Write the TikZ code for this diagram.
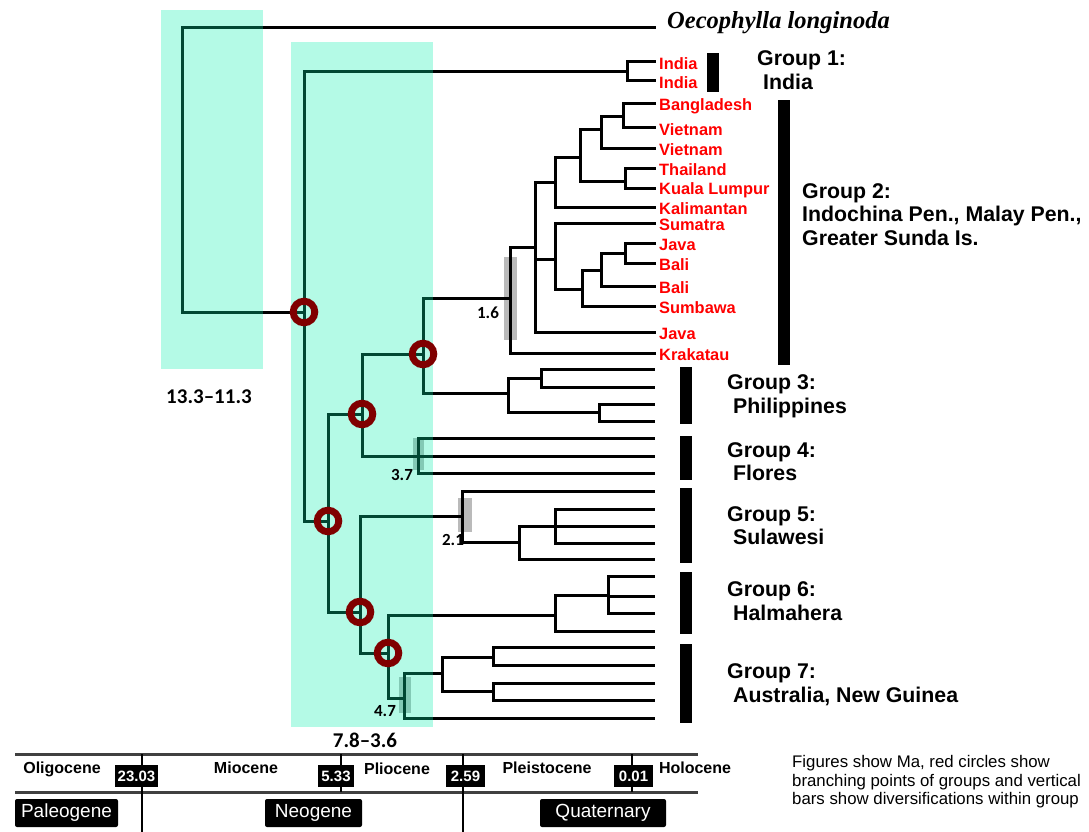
\documentclass[tikz,border=0pt]{standalone}
\usepackage{fontspec}
\setmainfont{Liberation Sans}
\newfontfamily\timesfont{Liberation Serif}
\newfontfamily\calibfont{Carlito}
\usepackage{tikz}
\definecolor{cRing}{HTML}{800000}
\definecolor{cBand}{RGB}{5,238,172}
\definecolor{cAxis}{HTML}{404040}
\definecolor{cLeaf}{HTML}{FF0000}
\newcommand{\fs}[2]{\fontsize{#1}{#2}\selectfont}

\begin{document}
\begin{tikzpicture}[x=1pt,y=-1pt,
  br/.style={line width=3pt},
  ring/.style={draw=cRing,line width=6.9pt},
  hpd/.style={fill=black!27},
  band/.style={fill=cBand,opacity=0.3},
  leaf/.style={anchor=west,inner sep=0pt,text=cLeaf,font=\fs{16.4}{19}\bfseries},
  grp/.style={anchor=west,inner sep=0pt,align=left,font=\fs{21.3}{23.5}\bfseries},
  age/.style={inner sep=0pt,font=\calibfont\fs{17}{20}\bfseries},
  epoch/.style={inner sep=0pt,font=\fs{16}{18}\bfseries},
  mabox/.style={fill=black,text=white,inner sep=0pt,minimum height=22pt,font=\fs{15}{16}\bfseries},
  erabox/.style={fill=black,text=white,rounded corners=2pt,inner sep=0pt,minimum height=28pt,font=\fs{19}{20}}]
\useasboundingbox (0,0) rectangle (1089,832);
\coordinate (oec) at (656,28);
\node[anchor=west,inner sep=0pt,font=\timesfont\fs{24.5}{28}\bfseries\itshape] (toec) at (667,23) {Oecophylla longinoda};
\foreach \n/\y/\t in {ind1/62/India,ind2/81/India,bang/104/Bangladesh,vie1/128/Vietnam,vie2/148/Vietnam,
    tha/168/Thailand,kl/188/Kuala Lumpur,kal/207/Kalimantan,sum/223/Sumatra,jav1/243/Java,bal1/263/Bali,
    bal2/286/Bali,sumb/306/Sumbawa,jav2/332/Java,kra/353/Krakatau}{
  \coordinate (\n) at (656,\y);
  \node[leaf] (t\n) at (659,\y+2) {\t};
}
\foreach \n/\y in {p1/369,p2/387,p3/404,p4/421,f1/438,f2/456,f3/473,s1/491,s2/509,s3/526,s4/543,s5/559,
    h1/576,h2/596,h3/613,h4/631,a1/647,a2/665,a3/683,a4/700,a5/718}
  \coordinate (\n) at (655,\y);
\coordinate (root) at (182,170);
\coordinate (nA) at (304,312);
\coordinate (ind) at (627,72);
\coordinate (nB) at (328,521);
\coordinate (nC) at (362,414);
\coordinate (nD) at (423,354);
\coordinate (g2) at (510,298);
\coordinate (g2a) at (535,247);
\coordinate (g2b) at (555,182);
\coordinate (g2c) at (555,259);
\coordinate (g2d) at (580,157);
\coordinate (g2e) at (601,130);
\coordinate (g2f) at (625,181);
\coordinate (g2g) at (623,117);
\coordinate (g2h) at (582,289);
\coordinate (g2i) at (601,270);
\coordinate (g2j) at (625,253);
\coordinate (g3) at (508,393);
\coordinate (g3a) at (541,378);
\coordinate (g3b) at (599,412);
\coordinate (g4) at (418,456);
\coordinate (nF) at (360,612);
\coordinate (g5) at (462,516);
\coordinate (g5a) at (519,542);
\coordinate (g5b) at (555,526);
\coordinate (nG) at (388,653);
\coordinate (g6) at (555,615);
\coordinate (g6a) at (608,595);
\coordinate (g7) at (404,698);
\coordinate (g7a) at (442,673);
\coordinate (g7b) at (493,657);
\coordinate (g7c) at (493,691);
\fill[hpd] (504,257) rectangle (517,340);
\fill[hpd] (413,438) rectangle (424,470);
\fill[hpd] (458,498) rectangle (472,532);
\fill[hpd] (399,677) rectangle (411,713);
\foreach \a/\b in {root/oec,root/nA,nA/ind,nA/nB,ind/ind1,ind/ind2,nB/nC,nB/nF,nC/nD,nC/g4,nD/g2,nD/g3,
    g2/g2a,g2/kra,g2a/g2b,g2a/g2c,g2a/jav2,g2b/g2d,g2b/kal,g2d/g2e,g2d/g2f,g2e/g2g,g2e/vie2,g2g/bang,
    g2g/vie1,g2f/tha,g2f/kl,g2c/sum,g2c/g2h,g2h/g2i,g2h/sumb,g2i/g2j,g2i/bal2,g2j/jav1,g2j/bal1,
    g3/g3a,g3/g3b,g3a/p1,g3a/p2,g3b/p3,g3b/p4,g4/f1,g4/f2,g4/f3,nF/g5,nF/nG,g5/s1,g5/g5a,g5a/g5b,
    g5a/s5,g5b/s2,g5b/s3,g5b/s4,nG/g6,nG/g7,g6/g6a,g6/h4,g6a/h1,g6a/h2,g6a/h3,g7/g7a,g7/a5,
    g7a/g7b,g7a/g7c,g7b/a1,g7b/a2,g7c/a3,g7c/a4}
  \draw[br] (\a) |- (\b);
\fill[band] (161,10) rectangle (263,369);
\fill[band] (291,42) rectangle (433,727);
\foreach \c in {nA,nB,nC,nD,nF,nG} \draw[ring] (\c) circle (10.8pt);
\node[age] (d16) at (488,313) {1.6};
\node[age] (d37) at (402,475) {3.7};
\node[age] (d21) at (453,540) {2.1};
\node[age] (d47) at (385,711) {4.7};
\node[inner sep=0pt,font=\calibfont\fs{21}{24}\bfseries] (span1) at (209,397) {13.3–11.3};
\node[inner sep=0pt,font=\calibfont\fs{21}{24}\bfseries] (span2) at (365,740) {7.8–3.6};
\foreach \ya/\yb/\xa in {53/92/707,100/365/778,367/424/680,436/480/680,488/563/680,572/634/680,644/723/680}
  \fill (\xa,\ya) rectangle (\xa+12,\yb);
\node[grp] (grp1) at (757,70) {Group 1:\\\hspace*{6pt}India};
\node[grp] (grp2) at (802,214.5) {Group 2:\\Indochina Pen., Malay Pen.,\\Greater Sunda Is.};
\node[grp] (grp3) at (727,396.5) {Group 3:\\\hspace*{6pt}Philippines};
\node[grp] (grp4) at (727,461.5) {Group 4:\\\hspace*{6pt}Flores};
\node[grp] (grp5) at (727,525.5) {Group 5:\\\hspace*{6pt}Sulawesi};
\node[grp] (grp6) at (727,601) {Group 6:\\\hspace*{6pt}Halmahera};
\node[grp] (grp7) at (727,684.5) {Group 7:\\\hspace*{6pt}Australia, New Guinea};
\draw[line width=3pt,cAxis] (15,754) -- (698,754);
\draw[line width=3pt,cAxis] (15,792) -- (698,792);
\foreach \x/\yb in {142/832,341/792,463/832,632/792} \draw[line width=1.2pt] (\x,754) -- (\x,\yb);
\node[epoch] (ep1) at (62,769) {Oligocene};
\node[epoch] (ep2) at (246,768) {Miocene};
\node[epoch] (ep3) at (397,769) {Pliocene};
\node[epoch] (ep4) at (547,768) {Pleistocene};
\node[epoch] (ep5) at (695,768) {Holocene};
\node[mabox,minimum width=43pt] (ma1) at (136.5,776) {23.03};
\node[mabox,minimum width=36pt] (ma2) at (336,776) {5.33};
\node[mabox,minimum width=39pt] (ma3) at (465.5,776) {2.59};
\node[mabox,minimum width=39pt] (ma4) at (633.5,776) {0.01};
\node[erabox,minimum width=103pt] (era1) at (66.5,813) {Paleogene};
\node[erabox,minimum width=97pt] (era2) at (313.5,813) {Neogene};
\node[erabox,minimum width=126pt] (era3) at (603,813) {Quaternary};
\node[anchor=west,align=left,inner sep=0pt,font=\fs{16.8}{18.5}] (note) at (792,782)
  {Figures show Ma, red circles show\\branching points of groups and vertical\\bars show diversifications within group};
\end{tikzpicture}
\end{document}
